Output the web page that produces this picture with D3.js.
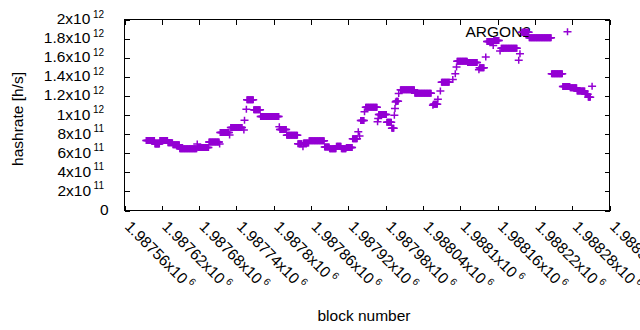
<!DOCTYPE html>
<html><head><meta charset="utf-8">
<script src="https://cdn.jsdelivr.net/npm/d3@7"></script>
<style>
html,body{margin:0;padding:0;background:#fff;overflow:hidden;}
svg{display:block;}
text{font-family:"Liberation Sans",Arial,sans-serif;fill:#000;}
</style></head><body>
<svg id="chart" width="640" height="330"></svg>
<script>
const seriesName = "ARGON2";
const xTitle = "block number";
const yTitle = "hashrate [h/s]";

// runs of consecutive blocks sharing the same hashrate value
const runStart = [1987595,1987609,1987617,1987630,1987638,1987649,1987677,1987678,1987696,1987713,
  1987714,1987729,1987731,1987752,1987753,1987756,1987757,1987768,1987779,1987809,
  1987810,1987821,1987839,1987847,1987848,1987857,1987882,1987890,1987901,1987909,
  1987917,1987927,1987936,1987938,1987940,1987946,1987948,1987967,1987968,1987969,
  1987982,1987990,1987994,1987995,1987996,1987997,1988001,1988004,1988027,1988056,
  1988057,1988064,1988068,1988070,1988088,1988092,1988094,1988095,1988112,1988130,
  1988131,1988141,1988143,1988153,1988154,1988164,1988166,1988194,1988196,1988199,
  1988211,1988247,1988265,1988277,1988288,1988301,1988306,1988312];
const runEnd = [1987608,1987616,1987629,1987637,1987648,1987676,1987677,1987695,1987712,1987713,
  1987728,1987729,1987749,1987752,1987753,1987756,1987767,1987778,1987808,1987809,
  1987820,1987838,1987845,1987847,1987856,1987881,1987889,1987900,1987908,1987916,
  1987926,1987934,1987936,1987938,1987945,1987946,1987966,1987967,1987968,1987981,
  1987989,1987993,1987994,1987995,1987996,1988000,1988001,1988026,1988053,1988056,
  1988063,1988064,1988068,1988082,1988088,1988092,1988094,1988111,1988127,1988130,
  1988138,1988141,1988152,1988153,1988162,1988164,1988191,1988194,1988196,1988210,
  1988246,1988264,1988276,1988287,1988300,1988305,1988309,1988312];
const runValue = [7.34e11,6.96e11,7.34e11,7.10e11,6.89e11,6.47e11,6.96e11,6.59e11,7.17e11,6.96e11,
  8.18e11,7.90e11,8.68e11,8.42e11,9.46e11,10.60e11,11.60e11,10.54e11,9.85e11,8.76e11,
  8.49e11,7.87e11,6.98e11,6.68e11,7.06e11,7.30e11,6.65e11,6.47e11,6.72e11,6.47e11,
  6.60e11,7.51e11,8.24e11,7.80e11,9.43e11,10.33e11,10.82e11,9.29e11,9.64e11,10.04e11,
  9.25e11,8.60e11,9.98e11,10.68e11,11.37e11,11.44e11,12.25e11,12.64e11,12.28e11,11.03e11,
  11.13e11,11.65e11,12.52e11,13.43e11,13.71e11,14.33e11,15.02e11,15.62e11,15.51e11,14.75e11,
  14.94e11,16.07e11,17.70e11,17.29e11,17.81e11,16.69e11,17.00e11,15.72e11,16.42e11,18.67e11,
  18.09e11,14.33e11,12.98e11,12.85e11,12.52e11,12.18e11,11.86e11,13.01e11];

const xTickValues = [1987560,1987620,1987680,1987740,1987800,1987860,1987920,1987980,1988040,1988100,1988160,1988220,1988280,1988340];
const xTickBase = ["1.98756x10","1.98762x10","1.98768x10","1.98774x10","1.9878x10","1.98786x10","1.98792x10","1.98798x10","1.98804x10","1.9881x10","1.98816x10","1.98822x10","1.98828x10","1.98834x10"];
const xTickSup = ["6","6","6","6","6","6","6","6","6","6","6","6","6","6"];
const yTickValues = [0,2e11,4e11,6e11,8e11,1e12,1.2e12,1.4e12,1.6e12,1.8e12,2e12];
const yTickBase = ["0","2x10","4x10","6x10","8x10","1x10","1.2x10","1.4x10","1.6x10","1.8x10","2x10"];
const yTickSup = ["","11","11","11","11","12","12","12","12","12","12"];

const color = "#9400d3";
const L = 124.5, R = 609.5, T = 19.5, B = 210.5;
const fs = "15.5px", fsSup = "10px";

const svg = d3.select("#chart");
const x = d3.scaleLinear().domain([xTickValues[0], xTickValues[xTickValues.length-1]]).range([L, R]);
const y = d3.scaleLinear().domain([0, 2e12]).range([B, T]);

// ticks (inward, mirrored)
const tk = 5;
svg.append("g").attr("transform",`translate(0,${B})`)
  .call(d3.axisBottom(x).tickValues(xTickValues).tickSize(-tk).tickSizeOuter(0).tickFormat(""));
svg.append("g").attr("transform",`translate(0,${T})`)
  .call(d3.axisTop(x).tickValues(xTickValues).tickSize(-tk).tickSizeOuter(0).tickFormat(""));
svg.append("g").attr("transform",`translate(${L},0)`)
  .call(d3.axisLeft(y).tickValues(yTickValues).tickSize(-tk).tickSizeOuter(0).tickFormat(""));
svg.append("g").attr("transform",`translate(${R},0)`)
  .call(d3.axisRight(y).tickValues(yTickValues).tickSize(-tk).tickSizeOuter(0).tickFormat(""));
svg.selectAll(".domain").remove();
svg.selectAll(".tick line").attr("stroke","#000").attr("stroke-width",1).attr("shape-rendering","crispEdges");

// border
svg.append("rect").attr("x",L).attr("y",T).attr("width",R-L).attr("height",B-T)
  .attr("fill","none").attr("stroke","#000").attr("stroke-width",1).attr("shape-rendering","crispEdges");

// y tick labels
yTickValues.forEach((v,i)=>{
  const t = svg.append("text").attr("x", yTickSup[i] ? 104 : 108.5).attr("y", y(v)+4.5)
    .attr("text-anchor","end").style("font-size",fs);
  t.append("tspan").text(yTickBase[i]);
  if (yTickSup[i]) t.append("tspan").attr("dx",2.5).attr("dy",-6.5).style("font-size",fsSup).text(yTickSup[i]);
});

// x tick labels
xTickValues.forEach((v,i)=>{
  const t = svg.append("text").attr("transform",`translate(${x(v)-0.5},227.5) rotate(45)`).style("font-size",fs);
  t.append("tspan").text(xTickBase[i]);
  t.append("tspan").attr("dx",3).attr("dy",-6.5).style("font-size",fsSup).text(xTickSup[i]);
});

// axis titles
svg.append("text").attr("transform","translate(23,119) rotate(-90)").attr("text-anchor","middle")
  .style("font-size",fs).text(yTitle);
svg.append("text").attr("x",364).attr("y",320.5).attr("text-anchor","middle")
  .style("font-size",fs).text(xTitle);

// key
svg.append("text").attr("x",531).attr("y",37.3).attr("text-anchor","end").style("font-size",fs).text(seriesName);
const plus = (px,py)=>`M${px-4},${py}H${px+4}M${px},${py-3.5}V${py+3.5}`;
svg.append("path").attr("d",plus(567.5,31.7)).attr("stroke",color).attr("stroke-width",1.5).attr("fill","none");

// data points
const points = [];
runStart.forEach((s,i)=>{ for(let b=s;b<=runEnd[i];b++) points.push({block:b, value:runValue[i]}); });
svg.append("g").selectAll("path").data(points).join("path")
  .attr("d", d=>plus(x(d.block), y(d.value)))
  .attr("stroke", color).attr("stroke-width",1.5).attr("fill","none");
</script>
</body></html>
